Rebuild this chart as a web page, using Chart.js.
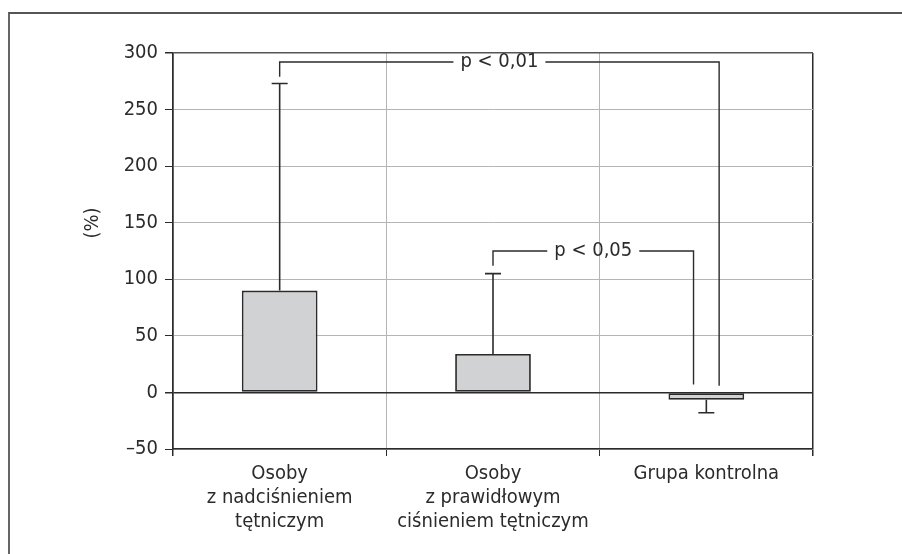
<!DOCTYPE html>
<html>
<head>
<meta charset="utf-8">
<script src="https://cdn.jsdelivr.net/npm/chart.js@4"></script>
<style>
  body { margin: 0; background: #fff; }
  canvas { display: block; }
</style>
</head>
<body>
<canvas id="chart" width="902" height="554"></canvas>
<script>
// data
const categories = [
    ['Osoby', 'z nadciśnieniem', 'tętniczym'],
    ['Osoby', 'z prawidłowym', 'ciśnieniem tętniczym'],
    'Grupa kontrolna'
];
const means = [90, 34, -6.5];
const errorEnds = [273, 105, -18];
const yTicks = [-50, 0, 50, 100, 150, 200, 250, 300];

// significance brackets: from category, to category, level, leg ends, label
const bracketLabels = ['p < 0,01', 'p < 0,05'];
const bracketFrom = [0, 1];
const bracketTo = [2, 2];
const bracketLevel = [292, 125];
const bracketStartEnd = [279, 112];
const bracketStopEnd = [6, 7];
const bracketToShift = [0.06, -0.06];

const FONT = "'Liberation Sans Narrow', 'DejaVu Sans Condensed', 'Roboto Condensed', sans-serif";
const DARK = '#2b2b2b';

const extras = {
    id: 'extras',
    beforeDraw(chart) {
        const ctx = chart.ctx;
        ctx.save();
        ctx.fillStyle = '#fff';
        ctx.fillRect(0, 0, chart.width, chart.height);
        ctx.restore();
    },
    afterDatasetsDraw(chart) {
        const ctx = chart.ctx;
        const x = chart.scales.x;
        const y = chart.scales.y;
        const catW = x.getPixelForValue(1) - x.getPixelForValue(0);
        ctx.save();
        ctx.strokeStyle = DARK;
        ctx.lineWidth = 1.6;

        // error bars
        means.forEach((m, i) => {
            const px = x.getPixelForValue(i);
            const y0 = y.getPixelForValue(m);
            const y1 = y.getPixelForValue(errorEnds[i]);
            ctx.beginPath();
            ctx.moveTo(px, y0);
            ctx.lineTo(px, y1);
            ctx.moveTo(px - 8, y1);
            ctx.lineTo(px + 8, y1);
            ctx.stroke();
        });

        // brackets
        ctx.font = '20px ' + FONT;
        ctx.textAlign = 'center';
        ctx.textBaseline = 'middle';
        ctx.fillStyle = DARK;
        ctx.lineWidth = 1.4;
        bracketLabels.forEach((label, i) => {
            const xa = x.getPixelForValue(bracketFrom[i]);
            const xb = x.getPixelForValue(bracketTo[i]) + bracketToShift[i] * catW;
            const yl = y.getPixelForValue(bracketLevel[i]);
            const ya = y.getPixelForValue(bracketStartEnd[i]);
            const yb = y.getPixelForValue(bracketStopEnd[i]);
            const mid = (xa + xb) / 2;
            const half = ctx.measureText(label).width / 2 + 7;
            ctx.beginPath();
            ctx.moveTo(xa, ya);
            ctx.lineTo(xa, yl);
            ctx.lineTo(mid - half, yl);
            ctx.moveTo(mid + half, yl);
            ctx.lineTo(xb, yl);
            ctx.lineTo(xb, yb);
            ctx.stroke();
            ctx.fillText(label, mid, yl);
        });
        ctx.restore();
    },
    afterDraw(chart) {
        const ctx = chart.ctx;
        ctx.save();
        // outer frame (only top and left visible)
        ctx.strokeStyle = '#555';
        ctx.lineWidth = 1.8;
        ctx.beginPath();
        ctx.moveTo(9, chart.height);
        ctx.lineTo(9, 13);
        ctx.lineTo(chart.width, 13);
        ctx.stroke();
        // axis title
        ctx.translate(93, 223);
        ctx.rotate(-Math.PI / 2);
        ctx.font = '20px ' + FONT;
        ctx.fillStyle = DARK;
        ctx.textAlign = 'center';
        ctx.textBaseline = 'middle';
        ctx.fillText('(%)', 0, 0);
        ctx.restore();
    }
};

new Chart(document.getElementById('chart'), {
    type: 'bar',
    data: {
        labels: categories,
        datasets: [{
            data: means,
            backgroundColor: '#d1d2d4',
            borderColor: DARK,
            borderWidth: 1.8,
            borderSkipped: false,
            categoryPercentage: 1,
            barPercentage: 0.355
        }]
    },
    options: {
        responsive: false,
        animation: false,
        layout: { padding: { left: 0, top: 53, right: 89, bottom: 0 } },
        plugins: { legend: { display: false }, tooltip: { enabled: false } },
        scales: {
            x: {
                afterFit(scale) { scale.height = 105; },
                grid: {
                    offset: true,
                    color: c => (c.type === 'tick' && c.index > 0) ? '#b5b5b5' : DARK,
                    lineWidth: c => (c.type === 'tick' && c.index > 0) ? 1 : 1.5,
                    tickColor: DARK,
                    tickLength: 7
                },
                border: { color: DARK, width: 1.5 },
                ticks: {
                    color: DARK,
                    padding: 6,
                    maxRotation: 0,
                    font: { family: FONT, size: 20, lineHeight: 1.2 }
                }
            },
            y: {
                min: -50,
                max: 300,
                afterFit(scale) { scale.width = 173; },
                afterBuildTicks(scale) { scale.ticks = yTicks.map(v => ({ value: v })); },
                grid: {
                    color: c => c.tick && c.tick.value === 0 ? DARK : (c.tick && c.tick.value === 300 ? '#555' : '#b5b5b5'),
                    lineWidth: c => c.tick && (c.tick.value === 0 || c.tick.value === 300) ? 1.5 : 1,
                    tickColor: DARK,
                    tickLength: 8
                },
                border: { color: DARK, width: 1.5 },
                ticks: {
                    color: DARK,
                    padding: 7,
                    callback: v => v < 0 ? '\u2013' + Math.abs(v) : v,
                    font: { family: FONT, size: 20 }
                }
            }
        }
    },
    plugins: [extras]
});
</script>
</body>
</html>
